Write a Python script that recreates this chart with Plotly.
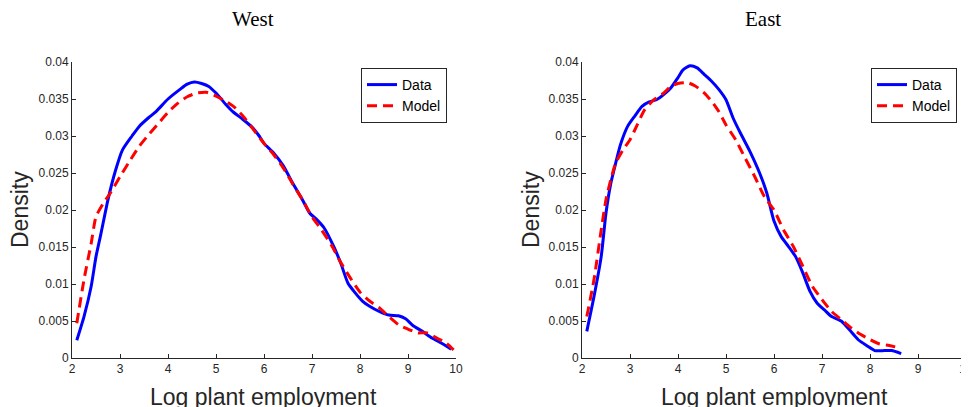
import plotly.graph_objects as go

W, H = 969, 407
PAGE_OFFSET = 8  # the page body adds 8px before the figure

# West panel
west_data_x = [2.1, 2.25, 2.4, 2.5, 2.6, 2.75, 2.9, 3.05, 3.25, 3.4, 3.6, 3.75, 4.0, 4.25, 4.4, 4.55,
               4.7, 4.85, 5.0, 5.2, 5.35, 5.55, 5.75, 5.9, 6.0, 6.2, 6.4, 6.6, 6.8, 6.95, 7.1, 7.25,
               7.45, 7.6, 7.75, 7.9, 8.05, 8.2, 8.4, 8.6, 8.8, 8.95, 9.1, 9.3, 9.5, 9.7, 9.9]
west_data_y = [0.0024, 0.0056, 0.0097, 0.0137, 0.0167, 0.0214, 0.0252, 0.0281, 0.0300, 0.0313, 0.0325,
               0.0333, 0.0350, 0.0363, 0.0370, 0.0373, 0.0371, 0.0367, 0.0358, 0.0343, 0.0333, 0.0323,
               0.0312, 0.0300, 0.0290, 0.0277, 0.0260, 0.0236, 0.0214, 0.0196, 0.0187, 0.0176, 0.0151,
               0.0128, 0.0101, 0.0088, 0.0077, 0.0070, 0.0063, 0.0058, 0.0057, 0.0053, 0.0044, 0.0036,
               0.0027, 0.0020, 0.0012]
west_model_x = [2.1, 2.25, 2.4, 2.5, 2.65, 2.8, 3.0, 3.2, 3.4, 3.6, 3.8, 4.0, 4.2, 4.4, 4.6, 4.8, 5.0,
                5.2, 5.4, 5.6, 5.8, 6.0, 6.2, 6.4, 6.6, 6.8, 7.0, 7.2, 7.4, 7.6, 7.8, 8.0, 8.2, 8.4,
                8.6, 8.8, 9.0, 9.2, 9.4, 9.6, 9.8, 9.95]
west_model_y = [0.0047, 0.0106, 0.0155, 0.0191, 0.0209, 0.0223, 0.0245, 0.0266, 0.0286, 0.0302, 0.0317,
                0.0332, 0.0344, 0.0353, 0.0358, 0.0359, 0.0354, 0.0347, 0.0338, 0.0324, 0.0307, 0.0290,
                0.0275, 0.0257, 0.0235, 0.0214, 0.0191, 0.0173, 0.0153, 0.0129, 0.0108, 0.0089, 0.0077,
                0.0068, 0.0056, 0.0045, 0.0039, 0.0034, 0.0034, 0.0027, 0.0020, 0.0011]

# East panel
east_data_x = [2.1, 2.25, 2.4, 2.5, 2.6, 2.7, 2.8, 2.95, 3.1, 3.25, 3.4, 3.55, 3.7, 3.85, 4.0, 4.1,
               4.25, 4.4, 4.55, 4.7, 4.85, 5.0, 5.15, 5.3, 5.5, 5.7, 5.85, 6.0, 6.15, 6.3, 6.45, 6.6,
               6.75, 6.9, 7.05, 7.2, 7.4, 7.6, 7.75, 7.95, 8.1, 8.3, 8.45, 8.65]
east_data_y = [0.0036, 0.0083, 0.0137, 0.0196, 0.0236, 0.0263, 0.0288, 0.0313, 0.0327, 0.0340, 0.0346,
               0.0349, 0.0356, 0.0365, 0.0379, 0.0389, 0.0395, 0.0392, 0.0383, 0.0374, 0.0363, 0.0349,
               0.0324, 0.0304, 0.0279, 0.0250, 0.0223, 0.0185, 0.0164, 0.0151, 0.0137, 0.0115, 0.0090,
               0.0074, 0.0065, 0.0056, 0.0050, 0.0036, 0.0025, 0.0016, 0.0010, 0.0010, 0.0010, 0.0006]
east_model_x = [2.1, 2.25, 2.4, 2.5, 2.6, 2.7, 2.85, 3.0, 3.15, 3.3, 3.5, 3.7, 3.85, 4.0, 4.2, 4.35,
                4.55, 4.7, 4.85, 5.0, 5.2, 5.4, 5.6, 5.8, 6.0, 6.2, 6.4, 6.6, 6.8, 7.0, 7.2, 7.4, 7.6,
                7.8, 8.0, 8.2, 8.4, 8.65]
east_model_y = [0.0056, 0.0106, 0.0173, 0.0214, 0.0241, 0.0263, 0.0281, 0.0295, 0.0315, 0.0335, 0.0349,
                0.0358, 0.0367, 0.0371, 0.0372, 0.0368, 0.0358, 0.0347, 0.0333, 0.0315, 0.0295, 0.0270,
                0.0245, 0.0218, 0.0200, 0.0173, 0.0151, 0.0124, 0.0097, 0.0079, 0.0063, 0.0052, 0.0041,
                0.0032, 0.0025, 0.0019, 0.0017, 0.0013]

x_ticks = [2, 3, 4, 5, 6, 7, 8, 9, 10]
y_ticks = [0, 0.005, 0.01, 0.015, 0.02, 0.025, 0.03, 0.035, 0.04]
y_labels = ['0', '0.005', '0.01', '0.015', '0.02', '0.025', '0.03', '0.035', '0.04']

panel_titles = ['West', 'East']
x_title = 'Log plant employment'
y_title = 'Density'


# screen pixel -> paper fraction
def px(p):
    return (p - PAGE_OFFSET) / W


def py(p):
    return 1 - (p - PAGE_OFFSET) / H


fig = go.Figure()

panels = [(west_data_x, west_data_y, west_model_x, west_model_y),
          (east_data_x, east_data_y, east_model_x, east_model_y)]
for i, (dx, dy, mx, my) in enumerate(panels):
    xa = 'x' if i == 0 else 'x2'
    ya = 'y' if i == 0 else 'y2'
    leg = 'legend' if i == 0 else 'legend2'
    fig.add_trace(go.Scatter(x=dx, y=dy, mode='lines', name='Data', xaxis=xa, yaxis=ya, legend=leg,
                             line=dict(color='#0000ff', width=3, shape='spline', smoothing=0.6)))
    fig.add_trace(go.Scatter(x=mx, y=my, mode='lines', name='Model', xaxis=xa, yaxis=ya, legend=leg,
                             line=dict(color='#ff0000', width=3, dash='10px,6px', shape='spline',
                                       smoothing=0.6)))

axis_common = dict(showgrid=False, zeroline=False, showline=True, linecolor='#262626', linewidth=1,
                   ticks='inside', ticklen=4, tickcolor='#262626', mirror=False, automargin=False,
                   tickfont=dict(family='Liberation Sans, Arial', size=12, color='#262626'))

plot_left = [72, 582]
plot_right = [456, 966]
for i in range(2):
    sx = '' if i == 0 else '2'
    fig.update_layout(**{
        'xaxis' + sx: dict(domain=[px(plot_left[i]), px(plot_right[i])], range=[2, 10],
                           tickvals=x_ticks, anchor='y' + sx, **axis_common),
        'yaxis' + sx: dict(domain=[py(358), py(62)], range=[0, 0.04], tickvals=y_ticks,
                           ticktext=y_labels, anchor='x' + sx, **axis_common),
    })

legend_style = dict(xanchor='right', yanchor='top', bgcolor='white', bordercolor='#262626',
                    borderwidth=1, font=dict(family='Liberation Sans, Arial', size=14, color='black'),
                    tracegroupgap=0, itemwidth=30)
fig.update_layout(
    legend=dict(x=px(447), y=py(68), **legend_style),
    legend2=dict(x=px(957), y=py(68), **legend_style),
)

annotations = []
title_x = [253, 763]
ylab_x = [20, 531]
xlab_x = [264, 774]
for i in range(2):
    annotations.append(dict(text=panel_titles[i], x=px(title_x[i]), y=py(19), xref='paper', yref='paper',
                            showarrow=False, xanchor='center', yanchor='middle',
                            font=dict(family='Liberation Serif, serif', size=21, color='black')))
    annotations.append(dict(text=y_title, x=px(ylab_x[i]), y=py(210), xref='paper', yref='paper',
                            showarrow=False, xanchor='center', yanchor='middle', textangle=-90,
                            font=dict(family='Liberation Sans, Arial', size=23, color='#262626')))
    annotations.append(dict(text=x_title, x=px(xlab_x[i]), y=py(397), xref='paper', yref='paper',
                            showarrow=False, xanchor='center', yanchor='middle',
                            font=dict(family='Liberation Sans, Arial', size=23, color='#262626')))

fig.update_layout(width=W, height=H, margin=dict(l=0, r=0, t=0, b=0, autoexpand=False),
                  paper_bgcolor='white', plot_bgcolor='white', annotations=annotations)

fig.write_html("out.html")
